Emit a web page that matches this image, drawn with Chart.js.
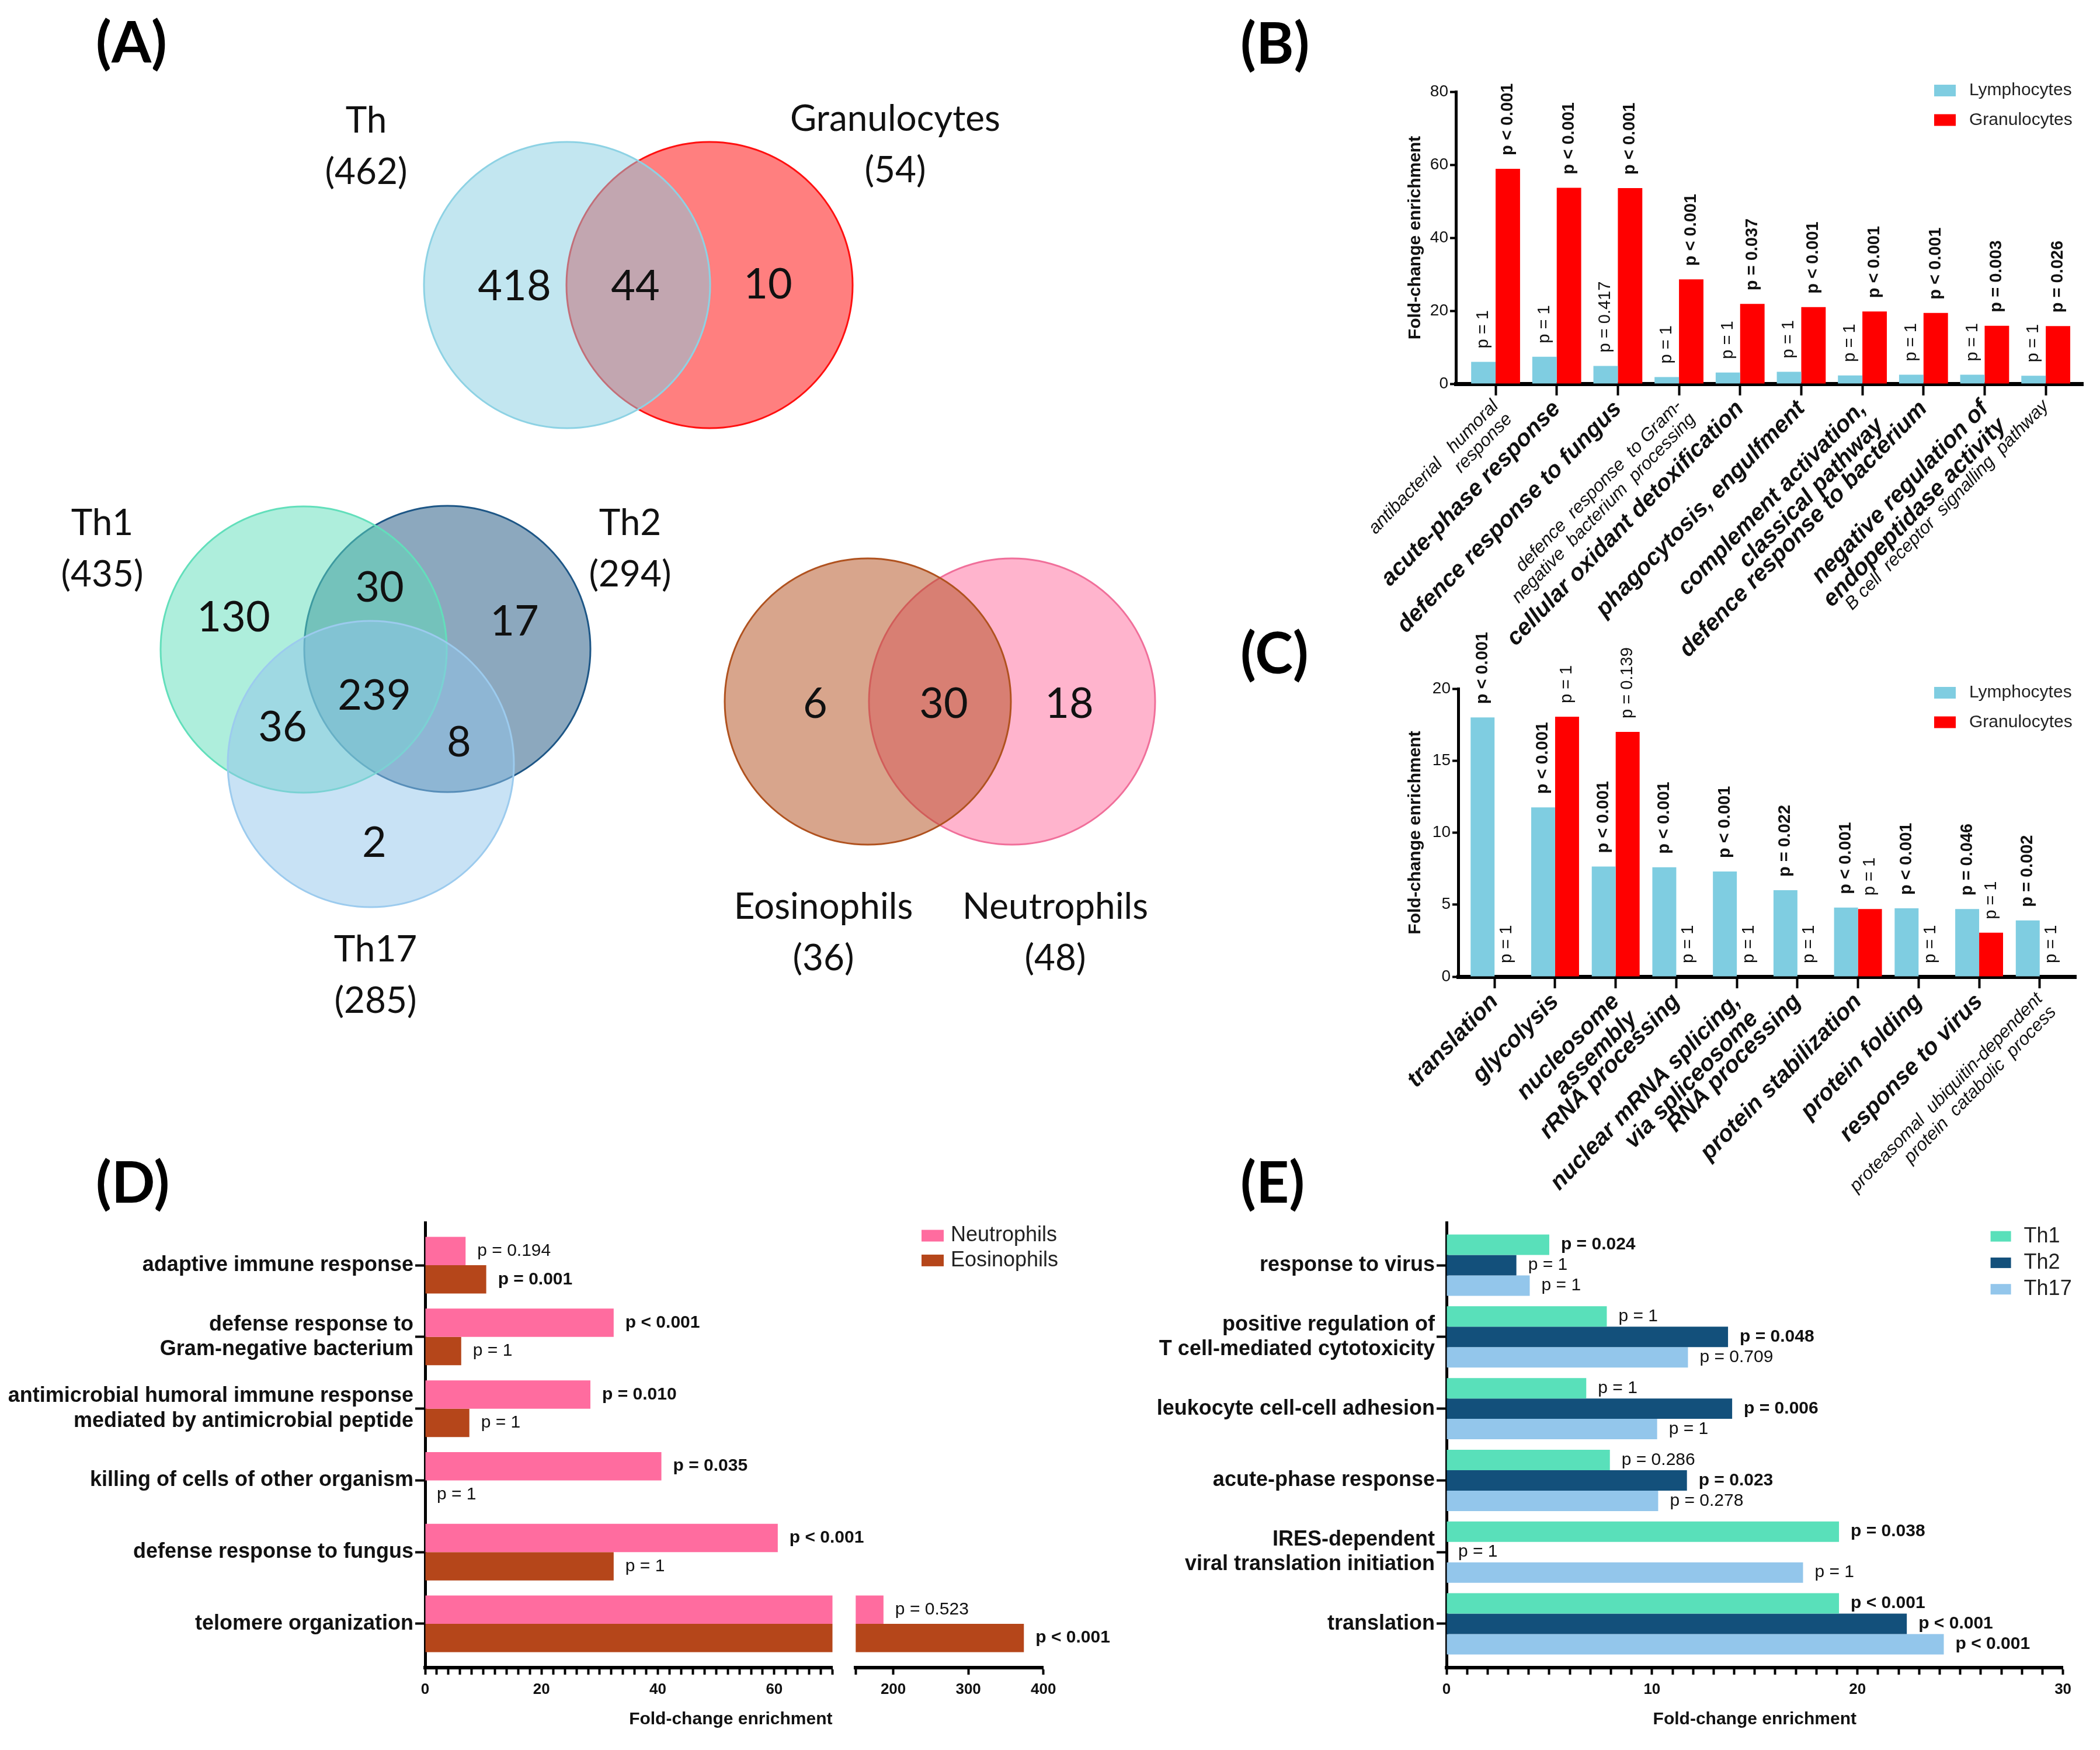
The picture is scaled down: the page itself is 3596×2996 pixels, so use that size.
<!DOCTYPE html>
<html>
<head>
<meta charset="utf-8">
<title>Enrichment figure</title>
<script src="https://cdn.jsdelivr.net/npm/chart.js@4.4.1/dist/chart.umd.min.js"></script>
<style>
  html, body { margin: 0; padding: 0; background: #fff; }
  #page { position: relative; width: 3596px; height: 2996px; overflow: hidden; background: #fff; }
  #page canvas { position: absolute; }
  .tag { position: absolute; font-family: Lato, "Liberation Sans", sans-serif; font-weight: 700;
         font-size: 98px; line-height: 1; color: #000; }
</style>
</head>
<body>
<div id="page">
  <canvas id="venn" width="2200" height="1900" style="left:0;top:0"></canvas>
  <canvas id="chartB" width="1316" height="1040" style="left:2280px;top:100px"></canvas>
  <canvas id="chartC" width="1316" height="1040" style="left:2280px;top:1060px"></canvas>
  <canvas id="chartD1" width="1490" height="936" style="left:0;top:2060px"></canvas>
  <canvas id="chartD2" width="470" height="936" style="left:1440px;top:2060px"></canvas>
  <canvas id="chartE" width="1716" height="936" style="left:1880px;top:2060px"></canvas>
  <div class="tag" style="left:164px;top:20px">(A)</div>
  <div class="tag" style="left:2124px;top:22px">(B)</div>
  <div class="tag" style="left:2124px;top:1066px">(C)</div>
  <div class="tag" style="left:164px;top:1972px">(D)</div>
  <div class="tag" style="left:2124px;top:1972px">(E)</div>
</div>
<script>
// ---------- data ----------
// (A) Venn diagrams: set totals and region counts
var vennTopSets = ['Th', 'Granulocytes'];
var vennTopTotals = [462, 54];
var vennTopRegions = [418, 44, 10];             // Th only, both, Granulocytes only
var vennThSets = ['Th1', 'Th2', 'Th17'];
var vennThTotals = [435, 294, 285];
var vennThRegions = [130, 30, 17, 239, 36, 8, 2]; // Th1, Th1+Th2, Th2, all, Th1+Th17, Th2+Th17, Th17
var vennGranSets = ['Eosinophils', 'Neutrophils'];
var vennGranTotals = [36, 48];
var vennGranRegions = [6, 30, 18];

// (B) granulocyte GO terms
var bCategories = [
  ['antibacterial   humoral', 'response'],
  'acute-phase response',
  'defence response to fungus',
  ['defence  response  to Gram-', 'negative  bacterium  processing'],
  'cellular oxidant detoxification',
  'phagocytosis, engulfment',
  ['complement activation,', 'classical pathway'],
  'defence response to bacterium',
  ['negative regulation of', 'endopeptidase activity'],
  'B cell  receptor  signalling  pathway'
];
var bLymph = [6.0, 7.4, 4.9, 1.85, 3.1, 3.3, 2.3, 2.5, 2.5, 2.2];
var bGran = [58.9, 53.7, 53.6, 28.6, 21.9, 21.0, 19.8, 19.4, 15.9, 15.8];
var bLymphP = ['p = 1', 'p = 1', 'p = 0.417', 'p = 1', 'p = 1', 'p = 1', 'p = 1', 'p = 1', 'p = 1', 'p = 1'];
var bGranP = ['p < 0.001', 'p < 0.001', 'p < 0.001', 'p < 0.001', 'p = 0.037', 'p < 0.001', 'p < 0.001', 'p < 0.001', 'p = 0.003', 'p = 0.026'];

// (C) lymphocyte GO terms
var cCategories = [
  'translation',
  'glycolysis',
  ['nucleosome', 'assembly'],
  'rRNA processing',
  ['nuclear mRNA splicing,', 'via spliceosome'],
  'RNA processing',
  'protein stabilization',
  'protein folding',
  'response to virus',
  ['proteasomal  ubiquitin-dependent', 'protein  catabolic  process']
];
var cLymph = [18.0, 11.75, 7.65, 7.6, 7.3, 6.0, 4.8, 4.75, 4.7, 3.9];
var cGran = [0, 18.05, 17.0, 0, 0, 0, 4.7, 0, 3.05, 0];
var cLymphP = ['p < 0.001', 'p < 0.001', 'p < 0.001', 'p < 0.001', 'p < 0.001', 'p = 0.022', 'p < 0.001', 'p < 0.001', 'p = 0.046', 'p = 0.002'];
var cGranP = ['p = 1', 'p = 1', 'p = 0.139', 'p = 1', 'p = 1', 'p = 1', 'p = 1', 'p = 1', 'p = 1', 'p = 1'];

// (D) neutrophils vs eosinophils
var dCategories = [
  'adaptive immune response',
  ['defense response to', 'Gram-negative bacterium'],
  ['antimicrobial humoral immune response', 'mediated by antimicrobial peptide'],
  'killing of cells of other organism',
  'defense response to fungus',
  'telomere organization'
];
var dNeut = [6.95, 32.4, 28.4, 40.6, 60.6, 187];
var dEos = [10.5, 6.2, 7.6, 0, 32.4, 374];
var dNeutP = ['p = 0.194', 'p < 0.001', 'p = 0.010', 'p = 0.035', 'p < 0.001', 'p = 0.523'];
var dEosP = ['p = 0.001', 'p = 1', 'p = 1', 'p = 1', 'p = 1', 'p < 0.001'];
var dLowTickLabels = [0, 20, 40, 60];
var dHighTickLabels = [200, 300, 400];

// (E) Th subsets
var eCategories = [
  'response to virus',
  ['positive regulation of', 'T cell-mediated cytotoxicity'],
  'leukocyte cell-cell adhesion',
  'acute-phase response',
  ['IRES-dependent', 'viral translation initiation'],
  'translation'
];
var eTh1 = [5.0, 7.8, 6.8, 7.95, 19.1, 19.1];
var eTh2 = [3.4, 13.7, 13.9, 11.7, 0, 22.4];
var eTh17 = [4.05, 11.75, 10.25, 10.3, 17.35, 24.2];
var eTh1P = ['p = 0.024', 'p = 1', 'p = 1', 'p = 0.286', 'p = 0.038', 'p < 0.001'];
var eTh2P = ['p = 1', 'p = 0.048', 'p = 0.006', 'p = 0.023', 'p = 1', 'p < 0.001'];
var eTh17P = ['p = 1', 'p = 0.709', 'p = 1', 'p = 0.278', 'p = 1', 'p < 0.001'];
var eTickLabels = [0, 10, 20, 30];

// ---------- Venn layout (canvas px) ----------
var vennR = 245;
var vennCircles = [   // drawn in this order
  {x: 1215, y: 488, fill: 'rgba(255,0,0,0.5)', line: '#ff1010'},
  {x: 971, y: 488, fill: 'rgba(133,205,225,0.5)', line: '#8dd2e4'},
  {x: 766, y: 1111, fill: 'rgba(25,81,125,0.5)', line: '#1d5686'},
  {x: 520, y: 1112, fill: 'rgba(93,221,185,0.5)', line: '#62dfbb'},
  {x: 635, y: 1308, fill: 'rgba(145,197,235,0.5)', line: '#9ccbee'},
  {x: 1733, y: 1201, fill: 'rgba(255,105,155,0.5)', line: '#f06f9a'},
  {x: 1486, y: 1201, fill: 'rgba(177,75,25,0.5)', line: '#b0521f'}
];
var vennNamePos = [[627, 207], [1533, 204], [175, 896], [1079, 896], [643, 1626], [1410, 1553], [1807, 1553]];
var vennRegionPos = [[881, 491], [1088, 491], [1315, 488],
  [400, 1058], [650, 1007], [881, 1065], [641, 1192], [484, 1246], [786, 1272], [641, 1444],
  [1396, 1206], [1616, 1206], [1831, 1206]];

var vennItems = [];
var vennNames = vennTopSets.concat(vennThSets, vennGranSets);
var vennTotals = vennTopTotals.concat(vennThTotals, vennGranTotals);
var vennCounts = vennTopRegions.concat(vennThRegions, vennGranRegions);
vennNames.forEach(function (n, i) {
  vennItems.push({t: n, x: vennNamePos[i][0], y: vennNamePos[i][1], size: 62});
  vennItems.push({t: '(' + vennTotals[i] + ')', x: vennNamePos[i][0], y: vennNamePos[i][1] + 88, size: 62});
});
vennCounts.forEach(function (c, i) {
  vennItems.push({t: String(c), x: vennRegionPos[i][0], y: vennRegionPos[i][1], size: 72});
});

// ---------- helpers / plugins ----------
Chart.defaults.font.family = '"Liberation Sans", Arial, Helvetica, sans-serif';
Chart.defaults.color = '#111';
var SANS = '"Liberation Sans", Arial, sans-serif';

function fixSize(size) {
  return function (scale) {
    if (scale.isHorizontal()) scale.height = size; else scale.width = size;
    scale.paddingLeft = 0; scale.paddingRight = 0; scale.paddingTop = 0; scale.paddingBottom = 0;
  };
}
function tickRange(min, max, step) {
  var out = [];
  for (var v = min; v <= max + 1e-9; v += step) out.push({value: v});
  return out;
}
function asPoints(values, horizontal) {
  return values.map(function (v, i) { return horizontal ? {x: v, y: i} : {x: i, y: v}; });
}
function isSignificant(t) {
  if (t.indexOf('<') >= 0) return true;
  return parseFloat(t.split('=')[1]) < 0.05;
}

var vennText = {
  id: 'vennText',
  afterDatasetsDraw: function (chart) {
    var ctx = chart.ctx, sx = chart.scales.x, sy = chart.scales.y;
    ctx.save();
    ctx.fillStyle = '#111';
    ctx.textAlign = 'center';
    ctx.textBaseline = 'middle';
    vennItems.forEach(function (it) {
      ctx.font = it.size + 'px Lato, "Open Sans", sans-serif';
      ctx.fillText(it.t, sx.getPixelForValue(it.x), sy.getPixelForValue(it.y));
    });
    ctx.restore();
  }
};

var pValueLabels = {
  id: 'pValueLabels',
  afterDatasetsDraw: function (chart, args, o) {
    var ctx = chart.ctx;
    var horizontal = chart.options.indexAxis === 'y';
    var vScale = horizontal ? chart.scales.x : chart.scales.y;
    chart.data.datasets.forEach(function (ds, di) {
      var meta = chart.getDatasetMeta(di);
      meta.data.forEach(function (bar, i) {
        var v = meta.controller.getParsed(i)[vScale.axis];
        if (v < vScale.min || v > vScale.max) return;
        var t = ds.pText[i];
        ctx.save();
        ctx.fillStyle = '#111';
        ctx.font = (isSignificant(t) ? 'bold ' : '') + o.size + 'px ' + SANS;
        ctx.textAlign = 'left';
        ctx.textBaseline = 'middle';
        if (horizontal) {
          ctx.fillText(t, bar.x + o.gap, bar.y);
        } else {
          ctx.translate(bar.x, bar.y - o.gap);
          ctx.rotate(-Math.PI / 2);
          ctx.fillText(t, 0, 0);
        }
        ctx.restore();
      });
    });
  }
};

var boxLegend = {
  id: 'boxLegend',
  afterDraw: function (chart, args, o) {
    var ctx = chart.ctx;
    ctx.save();
    chart.data.datasets.forEach(function (ds, i) {
      var cy = o.y + i * o.dy;
      ctx.fillStyle = ds.backgroundColor;
      ctx.fillRect(o.x, cy - o.bh / 2, o.bw, o.bh);
      ctx.fillStyle = '#222';
      ctx.font = o.size + 'px ' + SANS;
      ctx.textAlign = 'left';
      ctx.textBaseline = 'middle';
      ctx.fillText(ds.label, o.x + o.tx, cy);
    });
    ctx.restore();
  }
};

// ---------- (A) ----------
new Chart(document.getElementById('venn'), {
  type: 'bubble',
  data: {
    datasets: [{
      data: vennCircles.map(function (c) { return {x: c.x, y: c.y, r: vennR}; }),
      backgroundColor: vennCircles.map(function (c) { return c.fill; }),
      borderColor: vennCircles.map(function (c) { return c.line; }),
      borderWidth: 3
    }]
  },
  options: {
    responsive: false, animation: false, events: [],
    layout: {padding: 0, autoPadding: false},
    scales: {
      x: {type: 'linear', display: false, min: 0, max: 2200},
      y: {type: 'linear', display: false, min: 0, max: 1900, reverse: true}
    },
    plugins: {legend: {display: false}, tooltip: {enabled: false}}
  },
  plugins: [vennText]
});

// ---------- (B) and (C) ----------
var rotatedSmall = {size: 31, style: 'italic', weight: 'normal', lineHeight: 1.05};
var rotatedBig = {size: 40, style: 'italic', weight: 'bold', lineHeight: 1.05};

function columnChart(id, labels, lymph, gran, lymphP, granP, yMax, yStep, smallIdx, g) {
  return new Chart(document.getElementById(id), {
    type: 'bar',
    data: {
      datasets: [
        {label: 'Lymphocytes', data: asPoints(lymph, false), pText: lymphP, backgroundColor: '#7fcde1'},
        {label: 'Granulocytes', data: asPoints(gran, false), pText: granP, backgroundColor: '#ff0000'}
      ]
    },
    options: {
      responsive: false, animation: false, events: [],
      layout: {padding: {top: g.padTop, right: g.padRight, left: 0, bottom: 0}},
      datasets: {bar: {categoryPercentage: g.catPct, barPercentage: 1}},
      scales: {
        x: {
          type: 'linear', min: g.xMin, max: g.xMax, offset: false,
          afterBuildTicks: function (s) { s.ticks = tickRange(0, labels.length - 1, 1); },
          grid: {offset: false, drawOnChartArea: false, color: '#000', tickColor: '#000', tickLength: 20, tickWidth: 4},
          border: {color: '#000', width: 7},
          ticks: {
            autoSkip: false, minRotation: 46, maxRotation: 46, padding: 2, color: '#111',
            callback: function (v) { return labels[Math.round(v)]; },
            font: function (c) { return smallIdx.indexOf(c.index) >= 0 ? rotatedSmall : rotatedBig; }
          },
          afterFit: fixSize(g.xHeight)
        },
        y: {
          min: 0, max: yMax,
          ticks: {stepSize: yStep, padding: 3, color: '#111', font: {size: 28}},
          grid: {drawOnChartArea: false, color: '#000', tickColor: '#000', tickLength: 10, tickWidth: 4},
          border: {color: '#000', width: 5},
          title: {display: true, text: 'Fold-change enrichment', color: '#111',
                  font: {size: 30, weight: 'bold'}, padding: {top: 126, bottom: 0}},
          afterFit: fixSize(g.yWidth)
        }
      },
      plugins: {
        legend: {display: false}, tooltip: {enabled: false},
        pValueLabels: {size: 29, gap: 23},
        boxLegend: {x: 1032, y: g.legendY, dy: 50.5, bw: 37, bh: 20, tx: 60, size: 30}
      }
    },
    plugins: [pValueLabels, boxLegend]
  });
}

columnChart('chartB', bCategories, bLymph, bGran, bLymphP, bGranP, 80, 20, [0, 3, 9],
  {padTop: 57, padRight: 29, xHeight: 483, yWidth: 213, catPct: 0.8, xMin: -0.65, xMax: 9.61, legendY: 55});
columnChart('chartC', cCategories, cLymph, cGran, cLymphP, cGranP, 20, 5, [9],
  {padTop: 119, padRight: 41, xHeight: 428, yWidth: 217, catPct: 0.79, xMin: -0.6, xMax: 9.6, legendY: 126});

// ---------- (D) and (E) ----------
var rowTickFont = {size: 36, weight: 'bold', lineHeight: 1.18};

function rowScaleY(show, width, labels) {
  return {
    type: 'linear', display: show, reverse: true, min: -0.595, max: 5.611, offset: false,
    afterBuildTicks: function (s) { s.ticks = tickRange(0, labels.length - 1, 1); },
    grid: {offset: false, drawOnChartArea: false, color: '#000', tickColor: '#000', tickLength: 17, tickWidth: 4},
    border: {color: '#000', width: 5},
    ticks: {autoSkip: false, padding: 3, color: '#111', font: rowTickFont,
            callback: function (v) { return labels[Math.round(v)]; }},
    afterFit: fixSize(width)
  };
}
function rowScaleX(min, max, tickList, labels, title, titleAlign) {
  return {
    min: min, max: max,
    afterBuildTicks: function (s) { s.ticks = tickList; },
    ticks: {
      autoSkip: false, maxRotation: 0, padding: 10, color: '#111', font: {size: 26, weight: 'bold'},
      callback: function (v) { return labels.indexOf(v) >= 0 ? String(v) : ''; }
    },
    grid: {drawOnChartArea: false, color: '#000', tickColor: '#000', tickLength: 12, tickWidth: 4},
    border: {color: '#000', width: 6},
    title: {display: !!title, text: title || '', align: titleAlign, color: '#111',
            font: {size: 30, weight: 'bold'}, padding: {top: 0, bottom: 34}},
    afterFit: fixSize(141)
  };
}

var dDatasets = function () {
  return [
    {label: 'Neutrophils', data: asPoints(dNeut, true), pText: dNeutP, backgroundColor: '#ff6c9f'},
    {label: 'Eosinophils', data: asPoints(dEos, true), pText: dEosP, backgroundColor: '#b5461a'}
  ];
};

new Chart(document.getElementById('chartD1'), {
  type: 'bar',
  data: {datasets: dDatasets()},
  options: {
    indexAxis: 'y', responsive: false, animation: false, events: [],
    layout: {padding: {top: 33, right: 64.5, left: 0, bottom: 0}},
    datasets: {bar: {categoryPercentage: 0.79, barPercentage: 1}},
    scales: {
      y: rowScaleY(true, 728, dCategories),
      x: rowScaleX(0, 70, tickRange(0, 70, 2), dLowTickLabels, 'Fold-change enrichment', 'end')
    },
    plugins: {legend: {display: false}, tooltip: {enabled: false}, pValueLabels: {size: 30, gap: 20}}
  },
  plugins: [pValueLabels]
});

new Chart(document.getElementById('chartD2'), {
  type: 'bar',
  data: {datasets: dDatasets()},
  options: {
    indexAxis: 'y', responsive: false, animation: false, events: [],
    layout: {padding: {top: 33, right: 123.3, left: 25.3, bottom: 0}},
    datasets: {bar: {categoryPercentage: 0.79, barPercentage: 1}},
    scales: {
      y: rowScaleY(false, 0, dCategories),
      x: rowScaleX(150, 400, [{value: 150}, {value: 200}, {value: 300}, {value: 400}], dHighTickLabels, '', 'center')
    },
    plugins: {
      legend: {display: false}, tooltip: {enabled: false},
      pValueLabels: {size: 30, gap: 20},
      boxLegend: {x: 138, y: 55.5, dy: 42.4, bw: 38, bh: 20, tx: 50, size: 36}
    }
  },
  plugins: [pValueLabels, boxLegend]
});

new Chart(document.getElementById('chartE'), {
  type: 'bar',
  data: {
    datasets: [
      {label: 'Th1', data: asPoints(eTh1, true), pText: eTh1P, backgroundColor: '#59e0ba'},
      {label: 'Th2', data: asPoints(eTh2, true), pText: eTh2P, backgroundColor: '#13507b'},
      {label: 'Th17', data: asPoints(eTh17, true), pText: eTh17P, backgroundColor: '#93c6eb'}
    ]
  },
  options: {
    indexAxis: 'y', responsive: false, animation: false, events: [],
    layout: {padding: {top: 33, right: 63.4, left: 0, bottom: 0}},
    datasets: {bar: {categoryPercentage: 0.855, barPercentage: 1}},
    scales: {
      y: rowScaleY(true, 597, eCategories),
      x: rowScaleX(0, 30, tickRange(0, 30, 1), eTickLabels, 'Fold-change enrichment', 'center')
    },
    plugins: {
      legend: {display: false}, tooltip: {enabled: false},
      pValueLabels: {size: 30, gap: 20},
      boxLegend: {x: 1528.6, y: 56.6, dy: 45.3, bw: 35, bh: 18, tx: 57, size: 36}
    }
  },
  plugins: [pValueLabels, boxLegend]
});
</script>
</body>
</html>
